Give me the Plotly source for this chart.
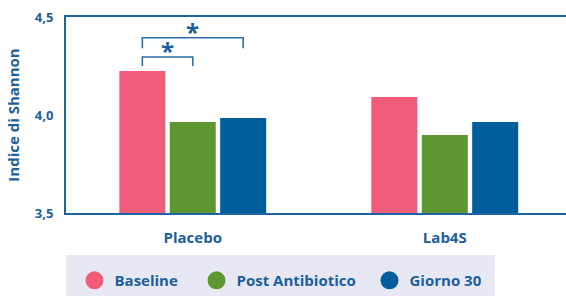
import plotly.graph_objects as go

categories = ["Placebo", "Lab4S"]
series_names = ["Baseline", "Post Antibiotico", "Giorno 30"]
baseline = [4.224, 4.092]
post_antibiotico = [3.964, 3.898]
giorno_30 = [3.985, 3.964]
y_ticks = [3.5, 4.0, 4.5]

colors = ["#f05c79", "#5e9732", "#005e9c"]
legend_widths = [77, 128, 80]
text_blue = "#1a5f9e"
font_family = "Open Sans"

# significance brackets: (category index, series a, series b, bracket top, leg bottom)
brackets = [(0, 0, 1, 4.296, 4.25), (0, 0, 2, 4.394, 4.340)]

bargap = 0.4
bargroupgap = 0.087
slot = (1 - bargap) / 3

fig = go.Figure()
for name, vals, col in zip(series_names, [baseline, post_antibiotico, giorno_30], colors):
    fig.add_trace(go.Bar(x=categories, y=vals, name=name, marker=dict(color=col, line=dict(width=0)),
                         showlegend=False, hoverinfo="skip"))
for name, col, lw in zip(series_names, colors, legend_widths):
    fig.add_trace(go.Scatter(x=[None], y=[None], mode="markers", name=name, legendwidth=lw,
                             marker=dict(symbol="circle", size=20, color=col,
                                         line=dict(color=col, width=2))))

shapes = []
annotations = []
for ci, a, b, ytop, ybot in brackets:
    xa = ci + (a - 1) * slot
    xb = ci + (b - 1) * slot
    shapes.append(dict(type="path", xref="x", yref="y",
                       path=f"M {xa},{ybot} L {xa},{ytop} L {xb},{ytop} L {xb},{ybot}",
                       line=dict(color="#2b6ea8", width=1.6)))
    annotations.append(dict(x=(xa + xb) / 2, y=ytop, xref="x", yref="y", text="<b>*</b>",
                            showarrow=False, yanchor="bottom", yshift=-12,
                            font=dict(size=24, color=text_blue, family=font_family)))

# legend background panel
shapes.append(dict(type="rect", xref="paper", yref="paper", x0=0, x1=0.858, y0=-0.55, y1=-0.214,
                   fillcolor="#e8e8f4", line=dict(width=0), layer="below"))

fig.update_layout(
    width=566, height=296,
    margin=dict(l=66, r=0, t=17, b=83, autoexpand=False),
    paper_bgcolor="white", plot_bgcolor="white",
    separators=",.",
    barmode="group", bargap=bargap, bargroupgap=bargroupgap,
    font=dict(family=font_family, color=text_blue),
    showlegend=True,
    legend=dict(orientation="h", x=0.017, xanchor="left", y=-0.345, yanchor="middle",
                bgcolor="rgba(0,0,0,0)", font=dict(size=15, color=text_blue, family=font_family, weight="bold"),
                itemsizing="trace", traceorder="normal"),
    shapes=shapes, annotations=annotations,
    xaxis=dict(type="category", range=[-0.503, 1.481], showline=True, mirror=True, automargin=False,
               linecolor="#1c64a3", linewidth=2, showgrid=False, ticks="",
               tickfont=dict(size=15, color=text_blue, family=font_family, weight="bold"),
               ticklabelstandoff=10),
    yaxis=dict(range=[3.5, 4.5], tickvals=y_ticks, tickformat=".1f", showline=True, automargin=False,
               linecolor="#1c64a3", linewidth=2, showgrid=False, ticks="", zeroline=False,
               tickfont=dict(size=13, color=text_blue, family=font_family, weight="bold"),
               ticklabelstandoff=8,
               title=dict(text="Indice di Shannon", standoff=12,
                          font=dict(size=15, color=text_blue, family=font_family, weight="bold"))),
)

fig.write_html("out.html", config={"displayModeBar": False},
               post_script="document.body.style.margin='0px';")
